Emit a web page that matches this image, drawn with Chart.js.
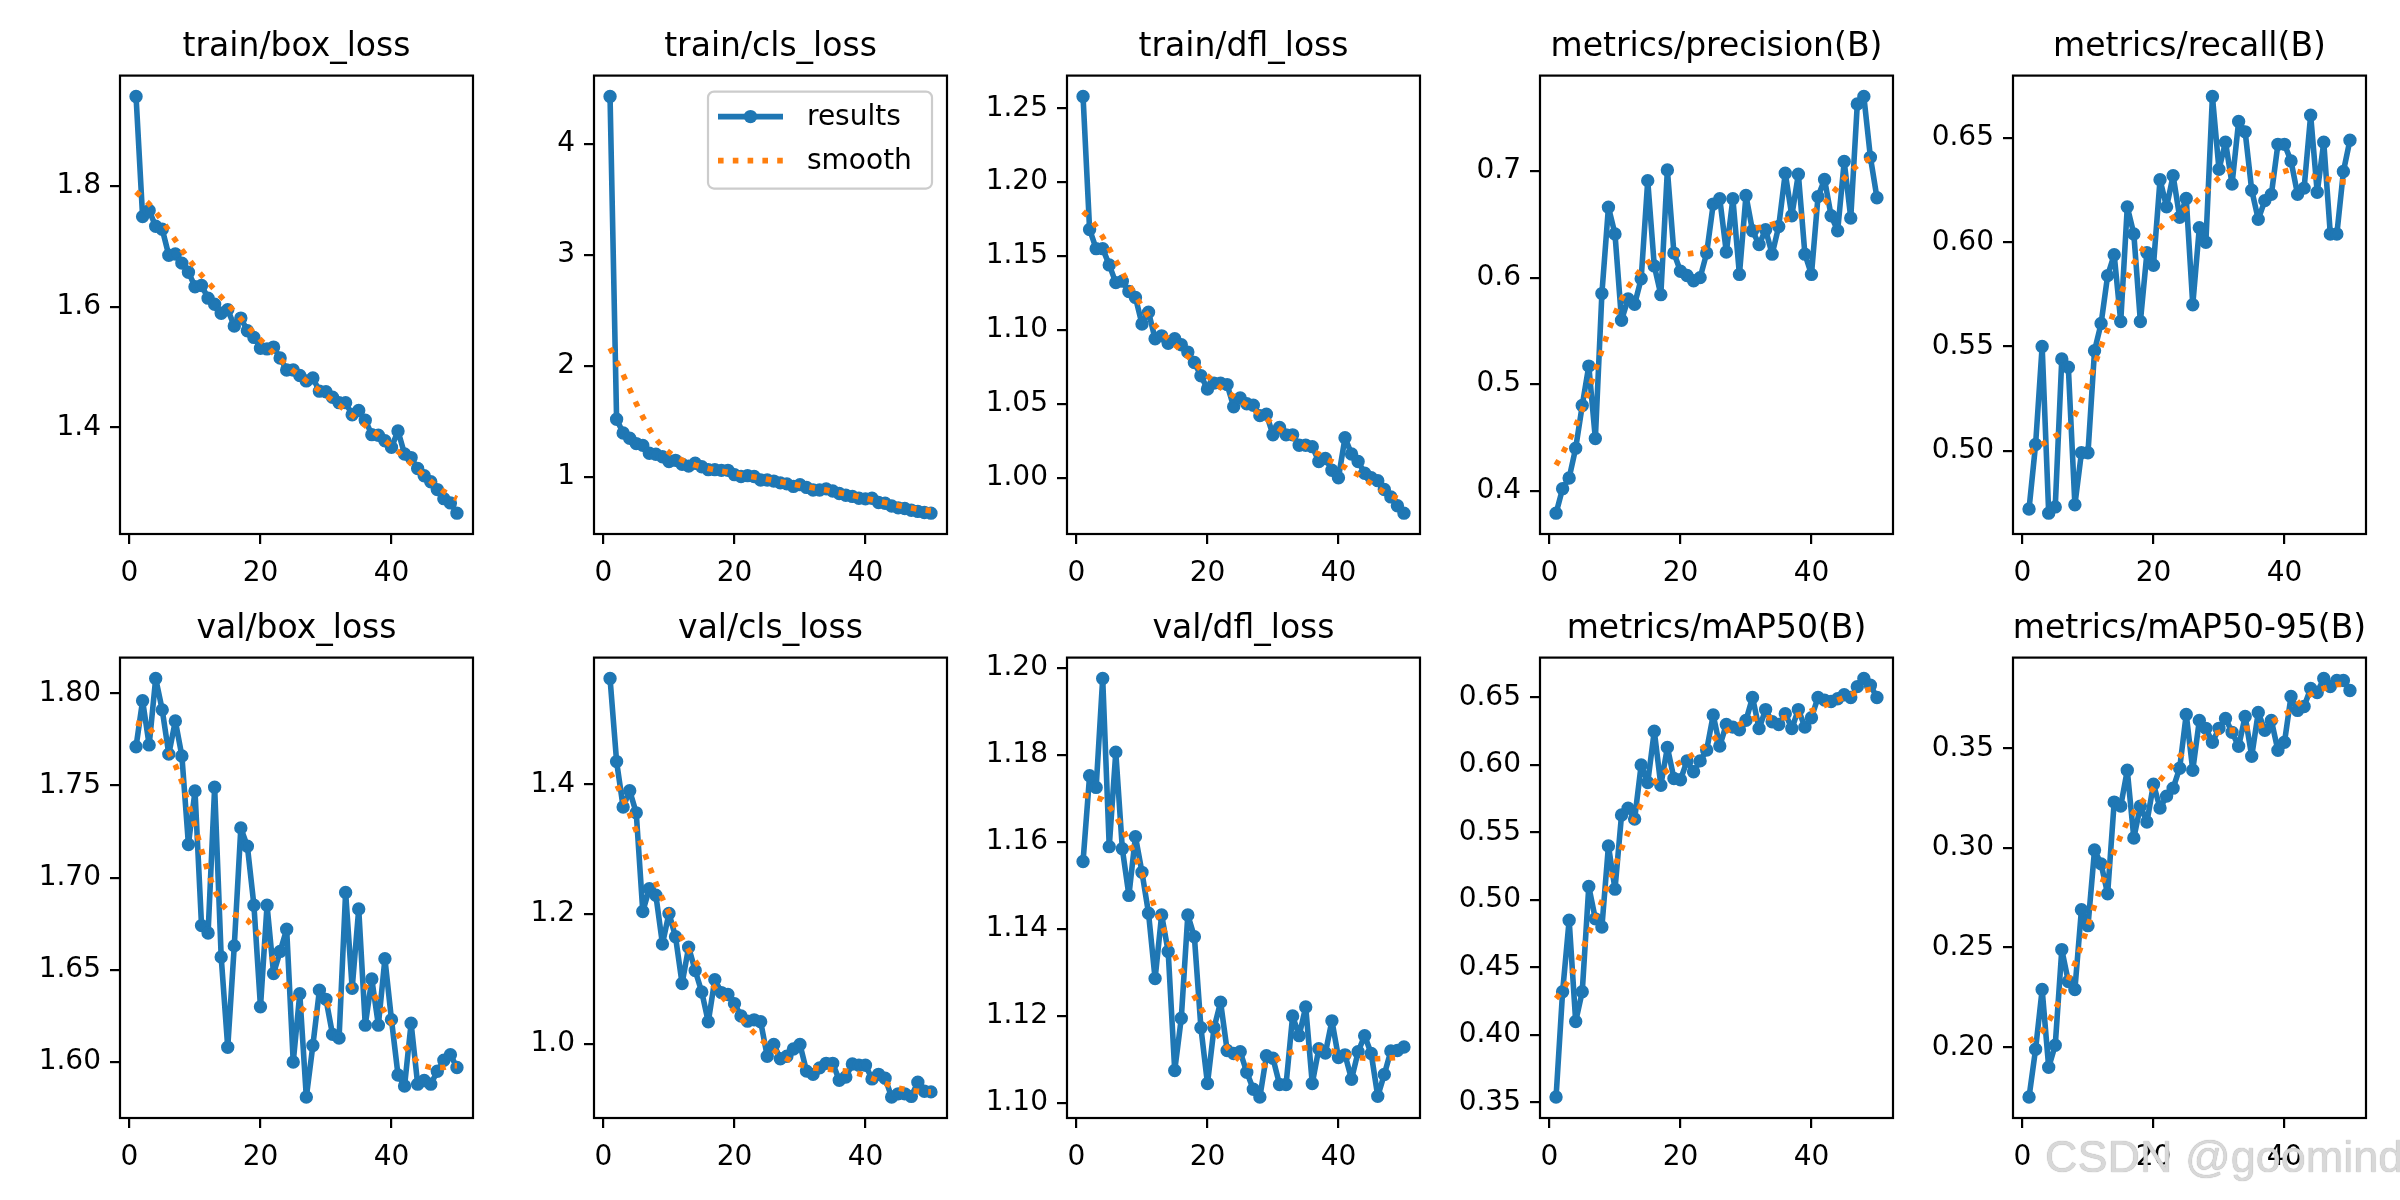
<!DOCTYPE html>
<html>
<head>
<meta charset="utf-8">
<script src="https://cdn.jsdelivr.net/npm/chart.js@4.4.1/dist/chart.umd.min.js"></script>
<style>
  html, body { margin: 0; padding: 0; background: #fff; }
  #page { position: relative; width: 2400px; height: 1200px; overflow: hidden; background: #fff; }
  #page canvas { position: absolute; }
  #mark {
    position: absolute; left: 2045px; top: 1134px;
    font: 45px "Liberation Sans", Arial, sans-serif; line-height: 1;
    color: #d8d8d8; white-space: nowrap;
    text-shadow: 0 0 1px #9a9a9a;
  }
</style>
</head>
<body>
<div id="page">
  <div id="mark">CSDN @goomind</div>
</div>
<script>
/* ============================================================
  DATA
============================================================ */
const epochs = [
  1, 2, 3, 4, 5, 6, 7, 8, 9, 10,
  11, 12, 13, 14, 15, 16, 17, 18, 19, 20,
  21, 22, 23, 24, 25, 26, 27, 28, 29, 30,
  31, 32, 33, 34, 35, 36, 37, 38, 39, 40,
  41, 42, 43, 44, 45, 46, 47, 48, 49, 50
];
const xTicks = [0, 20, 40];

// train/box_loss
const trainBoxLoss = [
  1.948, 1.749, 1.759, 1.733, 1.728, 1.685, 1.687, 1.672, 1.657, 1.633,
  1.635, 1.614, 1.604, 1.589, 1.595, 1.568, 1.581, 1.560, 1.549, 1.531,
  1.530, 1.533, 1.515, 1.495, 1.495, 1.486, 1.477, 1.482, 1.460, 1.459,
  1.450, 1.441, 1.441, 1.421, 1.428, 1.412, 1.388, 1.387, 1.378, 1.367,
  1.394, 1.356, 1.350, 1.332, 1.320, 1.310, 1.297, 1.282, 1.275, 1.258
];
const trainBoxLossSmooth = [
  1.790, 1.780, 1.770, 1.757, 1.742, 1.726, 1.710, 1.694, 1.679, 1.665,
  1.652, 1.640, 1.628, 1.616, 1.604, 1.592, 1.580, 1.568, 1.556, 1.545,
  1.534, 1.523, 1.513, 1.503, 1.494, 1.486, 1.477, 1.469, 1.461, 1.453,
  1.445, 1.437, 1.428, 1.420, 1.412, 1.403, 1.395, 1.387, 1.378, 1.369,
  1.360, 1.350, 1.340, 1.330, 1.320, 1.311, 1.302, 1.294, 1.287, 1.282
];
const trainBoxLossTicks = ['1.4', '1.6', '1.8'];

// train/cls_loss
const trainClsLoss = [
  4.428, 1.518, 1.395, 1.347, 1.299, 1.283, 1.212, 1.203, 1.180, 1.138,
  1.148, 1.113, 1.096, 1.122, 1.090, 1.064, 1.064, 1.058, 1.058, 1.019,
  1.003, 1.010, 1.003, 0.971, 0.971, 0.961, 0.945, 0.936, 0.913, 0.929,
  0.904, 0.881, 0.881, 0.891, 0.872, 0.849, 0.833, 0.823, 0.807, 0.801,
  0.807, 0.768, 0.762, 0.736, 0.720, 0.714, 0.698, 0.688, 0.678, 0.672
];
const trainClsLossSmooth = [
  2.160, 2.040, 1.920, 1.790, 1.660, 1.540, 1.430, 1.340, 1.270, 1.220,
  1.180, 1.150, 1.125, 1.105, 1.090, 1.075, 1.063, 1.052, 1.041, 1.030,
  1.019, 1.008, 0.998, 0.988, 0.977, 0.966, 0.955, 0.944, 0.933, 0.922,
  0.911, 0.900, 0.890, 0.880, 0.869, 0.857, 0.845, 0.832, 0.819, 0.806,
  0.793, 0.780, 0.767, 0.754, 0.741, 0.729, 0.718, 0.708, 0.700, 0.695
];
const trainClsLossTicks = ['1', '2', '3', '4'];

// train/dfl_loss
const trainDflLoss = [
  1.258, 1.168, 1.155, 1.155, 1.144, 1.132, 1.133, 1.126, 1.122, 1.104,
  1.112, 1.094, 1.096, 1.091, 1.094, 1.090, 1.085, 1.078, 1.069, 1.060,
  1.064, 1.064, 1.063, 1.048, 1.054, 1.050, 1.049, 1.042, 1.043, 1.029,
  1.034, 1.029, 1.029, 1.022, 1.022, 1.021, 1.011, 1.013, 1.005, 1.000,
  1.027, 1.016, 1.011, 1.003, 1.000, 0.998, 0.992, 0.987, 0.981, 0.976
];
const trainDflLossSmooth = [
  1.180, 1.176, 1.170, 1.163, 1.155, 1.147, 1.139, 1.131, 1.123, 1.116,
  1.109, 1.103, 1.098, 1.094, 1.090, 1.086, 1.082, 1.078, 1.073, 1.069,
  1.065, 1.061, 1.058, 1.055, 1.052, 1.049, 1.046, 1.043, 1.040, 1.036,
  1.033, 1.030, 1.027, 1.024, 1.021, 1.018, 1.016, 1.013, 1.011, 1.009,
  1.007, 1.004, 1.002, 0.999, 0.996, 0.993, 0.990, 0.988, 0.986, 0.985
];
const trainDflLossTicks = ['1.00', '1.05', '1.10', '1.15', '1.20', '1.25'];

// metrics/precision(B)
const precision = [
  0.379, 0.402, 0.412, 0.440, 0.480, 0.517, 0.449, 0.585, 0.666, 0.641,
  0.560, 0.580, 0.575, 0.599, 0.691, 0.611, 0.584, 0.701, 0.623, 0.606,
  0.602, 0.597, 0.600, 0.623, 0.669, 0.674, 0.624, 0.674, 0.603, 0.677,
  0.644, 0.631, 0.645, 0.622, 0.648, 0.698, 0.658, 0.697, 0.622, 0.603,
  0.676, 0.692, 0.658, 0.644, 0.709, 0.656, 0.763, 0.770, 0.713, 0.675
];
const precisionSmooth = [
  0.424, 0.435, 0.447, 0.461, 0.476, 0.494, 0.513, 0.532, 0.550, 0.566,
  0.580, 0.591, 0.600, 0.608, 0.614, 0.618, 0.621, 0.622, 0.623, 0.622,
  0.622, 0.623, 0.625, 0.629, 0.633, 0.637, 0.640, 0.643, 0.645, 0.646,
  0.646, 0.647, 0.648, 0.650, 0.652, 0.654, 0.656, 0.657, 0.658, 0.661,
  0.665, 0.670, 0.677, 0.685, 0.693, 0.700, 0.705, 0.709, 0.712, 0.713
];
const precisionTicks = ['0.4', '0.5', '0.6', '0.7'];

// metrics/recall(B)
const recall = [
  0.472, 0.503, 0.550, 0.470, 0.473, 0.544, 0.540, 0.474, 0.499, 0.499,
  0.548, 0.561, 0.584, 0.594, 0.562, 0.617, 0.604, 0.562, 0.595, 0.589,
  0.630, 0.617, 0.632, 0.612, 0.621, 0.570, 0.607, 0.600, 0.670, 0.635,
  0.648, 0.628, 0.658, 0.653, 0.625, 0.611, 0.620, 0.623, 0.647, 0.647,
  0.639, 0.623, 0.626, 0.661, 0.624, 0.648, 0.604, 0.604, 0.634, 0.649
];
const recallSmooth = [
  0.499, 0.501, 0.503, 0.505, 0.507, 0.509, 0.512, 0.517, 0.524, 0.532,
  0.541, 0.550, 0.558, 0.567, 0.575, 0.583, 0.590, 0.595, 0.600, 0.604,
  0.607, 0.610, 0.612, 0.614, 0.616, 0.618, 0.621, 0.624, 0.628, 0.631,
  0.633, 0.635, 0.636, 0.635, 0.634, 0.633, 0.632, 0.632, 0.633, 0.634,
  0.635, 0.634, 0.633, 0.632, 0.631, 0.631, 0.630, 0.629, 0.629, 0.629
];
const recallTicks = ['0.50', '0.55', '0.60', '0.65'];

// val/box_loss
const valBoxLoss = [
  1.771, 1.796, 1.772, 1.808, 1.791, 1.767, 1.785, 1.766, 1.718, 1.747,
  1.674, 1.670, 1.749, 1.657, 1.608, 1.663, 1.727, 1.717, 1.685, 1.630,
  1.685, 1.648, 1.660, 1.672, 1.600, 1.637, 1.581, 1.609, 1.639, 1.634,
  1.615, 1.613, 1.692, 1.640, 1.683, 1.620, 1.645, 1.620, 1.656, 1.623,
  1.593, 1.587, 1.621, 1.588, 1.590, 1.588, 1.595, 1.601, 1.604, 1.597
];
const valBoxLossSmooth = [
  1.784, 1.783, 1.781, 1.777, 1.773, 1.768, 1.761, 1.752, 1.740, 1.728,
  1.715, 1.703, 1.693, 1.686, 1.682, 1.680, 1.679, 1.677, 1.673, 1.668,
  1.662, 1.655, 1.648, 1.641, 1.635, 1.630, 1.627, 1.626, 1.627, 1.630,
  1.633, 1.636, 1.639, 1.641, 1.642, 1.641, 1.638, 1.633, 1.627, 1.621,
  1.615, 1.609, 1.604, 1.600, 1.598, 1.597, 1.597, 1.597, 1.598, 1.598
];
const valBoxLossTicks = ['1.60', '1.65', '1.70', '1.75', '1.80'];

// val/cls_loss
const valClsLoss = [
  1.563, 1.435, 1.365, 1.390, 1.356, 1.204, 1.239, 1.229, 1.154, 1.201,
  1.165, 1.093, 1.149, 1.113, 1.080, 1.034, 1.099, 1.079, 1.076, 1.062,
  1.043, 1.035, 1.037, 1.034, 0.981, 0.999, 0.977, 0.981, 0.992, 0.999,
  0.958, 0.953, 0.963, 0.970, 0.970, 0.944, 0.949, 0.969, 0.967, 0.967,
  0.946, 0.953, 0.947, 0.918, 0.923, 0.923, 0.919, 0.941, 0.927, 0.926
];
const valClsLossSmooth = [
  1.418, 1.400, 1.378, 1.354, 1.328, 1.301, 1.274, 1.248, 1.224, 1.202,
  1.181, 1.162, 1.144, 1.128, 1.113, 1.099, 1.086, 1.074, 1.062, 1.050,
  1.039, 1.028, 1.017, 1.007, 0.998, 0.990, 0.983, 0.977, 0.972, 0.968,
  0.965, 0.963, 0.962, 0.961, 0.960, 0.959, 0.958, 0.956, 0.954, 0.951,
  0.947, 0.943, 0.939, 0.935, 0.932, 0.930, 0.928, 0.927, 0.926, 0.926
];
const valClsLossTicks = ['1.0', '1.2', '1.4'];

// val/dfl_loss
const valDflLoss = [
  1.1555, 1.1752, 1.1725, 1.1975, 1.1589, 1.1806, 1.1584, 1.1477, 1.1612, 1.1530,
  1.1436, 1.1286, 1.1432, 1.1348, 1.1075, 1.1195, 1.1432, 1.1382, 1.1173, 1.1045,
  1.1173, 1.1232, 1.1121, 1.1114, 1.1118, 1.1071, 1.1032, 1.1014, 1.1109, 1.1103,
  1.1043, 1.1043, 1.1200, 1.1155, 1.1221, 1.1045, 1.1125, 1.1115, 1.1189, 1.1105,
  1.1111, 1.1055, 1.1118, 1.1155, 1.1114, 1.1016, 1.1066, 1.1120, 1.1121, 1.1129
];
const valDflLossSmooth = [
  1.1707, 1.1705, 1.1702, 1.1697, 1.1682, 1.1660, 1.1632, 1.1600, 1.1565, 1.1527,
  1.1488, 1.1448, 1.1410, 1.1373, 1.1338, 1.1305, 1.1274, 1.1245, 1.1218, 1.1193,
  1.1170, 1.1148, 1.1128, 1.1111, 1.1097, 1.1088, 1.1084, 1.1084, 1.1088, 1.1095,
  1.1103, 1.1111, 1.1118, 1.1124, 1.1127, 1.1128, 1.1127, 1.1124, 1.1120, 1.1116,
  1.1112, 1.1108, 1.1105, 1.1103, 1.1102, 1.1102, 1.1103, 1.1104, 1.1105, 1.1106
];
const valDflLossTicks = ['1.10', '1.12', '1.14', '1.16', '1.18', '1.20'];

// metrics/mAP50(B)
const map50 = [
  0.354, 0.432, 0.485, 0.410, 0.432, 0.510, 0.486, 0.480, 0.540, 0.508,
  0.563, 0.568, 0.560, 0.600, 0.587, 0.625, 0.585, 0.613, 0.590, 0.589,
  0.603, 0.595, 0.603, 0.611, 0.637, 0.614, 0.630, 0.628, 0.626, 0.633,
  0.650, 0.627, 0.641, 0.632, 0.630, 0.638, 0.627, 0.641, 0.628, 0.635,
  0.650, 0.648, 0.647, 0.649, 0.652, 0.650, 0.658, 0.664, 0.659, 0.650
];
const map50Smooth = [
  0.427, 0.433, 0.441, 0.451, 0.463, 0.475, 0.487, 0.499, 0.512, 0.525,
  0.538, 0.550, 0.561, 0.571, 0.580, 0.587, 0.592, 0.596, 0.599, 0.602,
  0.605, 0.608, 0.611, 0.615, 0.619, 0.622, 0.625, 0.628, 0.630, 0.632,
  0.634, 0.635, 0.635, 0.635, 0.635, 0.635, 0.636, 0.637, 0.638, 0.640,
  0.642, 0.644, 0.646, 0.648, 0.650, 0.652, 0.654, 0.655, 0.656, 0.656
];
const map50Ticks = ['0.35', '0.40', '0.45', '0.50', '0.55', '0.60', '0.65'];

// metrics/mAP50-95(B)
const map5095 = [
  0.175, 0.199, 0.229, 0.190, 0.201, 0.249, 0.233, 0.229, 0.269, 0.261,
  0.299, 0.292, 0.277, 0.323, 0.321, 0.339, 0.305, 0.321, 0.313, 0.332,
  0.320, 0.326, 0.330, 0.340, 0.367, 0.339, 0.364, 0.360, 0.353, 0.360,
  0.365, 0.358, 0.351, 0.366, 0.346, 0.368, 0.359, 0.364, 0.349, 0.353,
  0.376, 0.369, 0.371, 0.380, 0.378, 0.385, 0.381, 0.384, 0.384, 0.379
];
const map5095Smooth = [
  0.203, 0.205, 0.208, 0.213, 0.219, 0.226, 0.234, 0.242, 0.251, 0.261,
  0.271, 0.281, 0.290, 0.298, 0.306, 0.313, 0.318, 0.322, 0.326, 0.330,
  0.334, 0.338, 0.342, 0.346, 0.349, 0.352, 0.354, 0.356, 0.357, 0.358,
  0.359, 0.359, 0.359, 0.360, 0.360, 0.361, 0.362, 0.363, 0.365, 0.367,
  0.369, 0.372, 0.375, 0.377, 0.379, 0.380, 0.381, 0.382, 0.382, 0.382
];
const map5095Ticks = ['0.20', '0.25', '0.30', '0.35'];

const panels = [
  { title: 'train/box_loss', results: trainBoxLoss, smooth: trainBoxLossSmooth, ticks: trainBoxLossTicks },
  { title: 'train/cls_loss', results: trainClsLoss, smooth: trainClsLossSmooth, ticks: trainClsLossTicks, legend: true },
  { title: 'train/dfl_loss', results: trainDflLoss, smooth: trainDflLossSmooth, ticks: trainDflLossTicks },
  { title: 'metrics/precision(B)', results: precision, smooth: precisionSmooth, ticks: precisionTicks },
  { title: 'metrics/recall(B)', results: recall, smooth: recallSmooth, ticks: recallTicks },
  { title: 'val/box_loss', results: valBoxLoss, smooth: valBoxLossSmooth, ticks: valBoxLossTicks },
  { title: 'val/cls_loss', results: valClsLoss, smooth: valClsLossSmooth, ticks: valClsLossTicks },
  { title: 'val/dfl_loss', results: valDflLoss, smooth: valDflLossSmooth, ticks: valDflLossTicks },
  { title: 'metrics/mAP50(B)', results: map50, smooth: map50Smooth, ticks: map50Ticks },
  { title: 'metrics/mAP50-95(B)', results: map5095, smooth: map5095Smooth, ticks: map5095Ticks }
];

/* ============================================================
  LAYOUT (matplotlib 2x5 grid, 200 dpi)
============================================================ */
const BLUE = '#1f77b4';
const ORANGE = '#ff7f0e';
const FONT = 'DejaVu Sans';
const boxLefts = [120, 594, 1067, 1540, 2013];
const boxTops = [76, 658];
const boxHeights = [458, 460];
const BOX_W = 353;
const Y_AXIS_W = 110;
const TITLE_H = 80;
const X_AXIS_H = 60;
const LW = 5.6;               // 2pt line
const DOT = [5.6, 9.2];       // ':' pattern at 2pt

// full box around the plot area (matplotlib spines)
const framePlugin = {
  id: 'frame',
  afterDatasetsDraw(chart) {
    const { ctx, chartArea: a } = chart;
    ctx.save();
    ctx.strokeStyle = '#000';
    ctx.lineWidth = 2.2;
    ctx.strokeRect(a.left, a.top, a.right - a.left, a.bottom - a.top);
    ctx.restore();
  }
};

// matplotlib-style legend in the upper right of the plot area
const boxLegendPlugin = {
  id: 'boxLegend',
  afterDraw(chart) {
    const { ctx, chartArea: a } = chart;
    const w = 224, h = 97;
    const x0 = a.right - 15 - w, y0 = a.top + 16;
    ctx.save();
    ctx.beginPath();
    ctx.roundRect(x0, y0, w, h, 6);
    ctx.fillStyle = 'rgba(255,255,255,0.8)';
    ctx.fill();
    ctx.strokeStyle = '#cccccc';
    ctx.lineWidth = 2.2;
    ctx.stroke();

    chart.data.datasets.forEach((ds, k) => {
      const y = y0 + 25 + k * 44;
      ctx.beginPath();
      ctx.moveTo(x0 + 10, y);
      ctx.lineTo(x0 + 75, y);
      ctx.strokeStyle = ds.borderColor;
      ctx.lineWidth = LW;
      ctx.lineCap = 'butt';
      ctx.setLineDash(ds.borderDash || []);
      ctx.stroke();
      ctx.setLineDash([]);
      if (ds.pointRadius > 0) {
        ctx.beginPath();
        ctx.arc(x0 + 42.5, y, ds.pointRadius + ds.pointBorderWidth / 2, 0, Math.PI * 2);
        ctx.fillStyle = ds.borderColor;
        ctx.fill();
      }
      ctx.fillStyle = '#000';
      ctx.font = `28px "${FONT}"`;
      ctx.textBaseline = 'middle';
      ctx.textAlign = 'left';
      ctx.fillText(ds.label, x0 + 99, y + 1);
    });
    ctx.restore();
  }
};

/* ============================================================
  DRAW THE 10 PANELS
============================================================ */
const page = document.getElementById('page');
const xPad = (epochs[epochs.length - 1] - epochs[0]) * 0.05;

panels.forEach((p, i) => {
  const row = Math.floor(i / 5);
  const col = i % 5;
  // symmetric canvas (empty right axis as wide as the left one) so the title centres over the box
  const W = Y_AXIS_W + BOX_W + Y_AXIS_W;
  const H = TITLE_H + boxHeights[row] + X_AXIS_H;

  const canvas = document.createElement('canvas');
  canvas.width = W;
  canvas.height = H;
  canvas.style.left = (boxLefts[col] - Y_AXIS_W) + 'px';
  canvas.style.top = (boxTops[row] - TITLE_H) + 'px';
  canvas.style.width = W + 'px';
  canvas.style.height = H + 'px';
  page.insertBefore(canvas, document.getElementById('mark'));

  const all = p.results.concat(p.smooth);
  const lo = Math.min(...all), hi = Math.max(...all);
  const yPad = (hi - lo) * 0.05;

  const tickFont = { family: FONT, size: 28 };
  const axisGrid = {
    display: true, drawOnChartArea: false, drawTicks: true,
    tickLength: 10, tickWidth: 2.2, tickColor: '#000', color: '#000', lineWidth: 2.2
  };

  new Chart(canvas.getContext('2d'), {
    type: 'line',
    data: {
      datasets: [
        {
          label: 'results',
          data: epochs.map((e, k) => ({ x: e, y: p.results[k] })),
          borderColor: BLUE,
          backgroundColor: BLUE,
          borderWidth: LW,
          borderJoinStyle: 'round',
          pointRadius: 5.4,
          pointBorderWidth: 2.6,
          pointBackgroundColor: BLUE,
          pointBorderColor: BLUE,
          tension: 0,
          order: 1
        },
        {
          label: 'smooth',
          data: epochs.map((e, k) => ({ x: e, y: p.smooth[k] })),
          borderColor: ORANGE,
          backgroundColor: ORANGE,
          borderWidth: LW,
          borderDash: DOT,
          borderCapStyle: 'butt',
          pointRadius: 0,
          pointBorderWidth: 0,
          tension: 0,
          order: 0
        }
      ]
    },
    options: {
      responsive: false,
      devicePixelRatio: 1,
      animation: false,
      events: [],
      layout: { padding: 0 },
      plugins: {
        legend: { display: false },
        tooltip: { enabled: false },
        title: {
          display: true,
          text: p.title,
          color: '#000',
          font: { family: FONT, size: 33, weight: 'normal', lineHeight: 1.2 },
          padding: { top: 32, bottom: 8 }
        }
      },
      scales: {
        x: {
          type: 'linear',
          min: epochs[0] - xPad,
          max: epochs[epochs.length - 1] + xPad,
          grid: axisGrid,
          border: { display: false },
          afterBuildTicks: axis => { axis.ticks = xTicks.map(v => ({ value: v })); },
          afterFit: scale => { scale.height = X_AXIS_H; },
          ticks: {
            color: '#000', font: tickFont, padding: 13,
            autoSkip: false, maxRotation: 0,
            callback: v => String(v)
          }
        },
        y: {
          type: 'linear',
          position: 'left',
          min: lo - yPad,
          max: hi + yPad,
          grid: axisGrid,
          border: { display: false },
          afterBuildTicks: axis => { axis.ticks = p.ticks.map(s => ({ value: parseFloat(s) })); },
          afterFit: scale => { scale.width = Y_AXIS_W; },
          ticks: {
            color: '#000', font: tickFont, padding: 9,
            autoSkip: false,
            callback: (v, idx) => p.ticks[idx]
          }
        },
        spacer: {
          type: 'linear',
          position: 'right',
          display: true,
          grid: { display: false, drawTicks: false },
          border: { display: false },
          ticks: { display: false },
          afterFit: scale => { scale.width = Y_AXIS_W; }
        }
      }
    },
    plugins: p.legend ? [framePlugin, boxLegendPlugin] : [framePlugin]
  });
});
</script>
</body>
</html>
